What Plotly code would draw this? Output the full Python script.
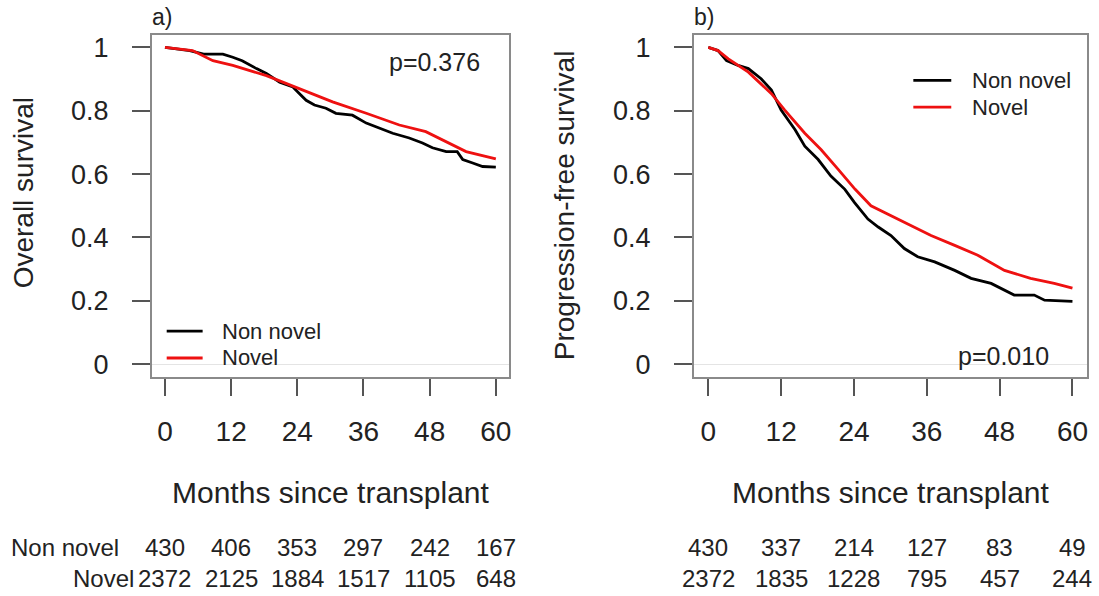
import plotly.graph_objects as go

W, H = 1099, 596

# ---------------- data ----------------
months_ticks = [0, 12, 24, 36, 48, 60]
surv_ticks = [0, 0.2, 0.4, 0.6, 0.8, 1]
surv_tick_text = ["0", "0.2", "0.4", "0.6", "0.8", "1"]

# Panel a) Overall survival
os_nonnovel_t = [0, 4.5, 7, 10.5, 12.3, 14, 16.6, 18.4, 20.8, 23.2, 24.4, 25.6, 27.1, 29.2, 31, 34,
                 36.5, 38.9, 41.3, 44.3, 46.7, 48.5, 51, 53, 54, 55.8, 57.6, 60]
os_nonnovel_s = [1, 0.99, 0.979, 0.979, 0.969, 0.958, 0.933, 0.918, 0.89, 0.875, 0.854, 0.833, 0.818,
                 0.808, 0.792, 0.786, 0.761, 0.745, 0.729, 0.714, 0.698, 0.683, 0.671, 0.671, 0.646,
                 0.635, 0.624, 0.622]
os_novel_t = [0, 5, 8.7, 12.3, 18.4, 24.4, 30.4, 36.5, 42.5, 47.3, 51.6, 54.6, 60]
os_novel_s = [1, 0.99, 0.958, 0.943, 0.911, 0.87, 0.828, 0.792, 0.755, 0.734, 0.698, 0.671, 0.648]

# Panel b) Progression-free survival
pfs_nonnovel_t = [0, 1.6, 3, 4.9, 6.6, 8.7, 10.4, 12, 14.3, 15.9, 18.1, 20.2, 22.5, 24.1, 26.3, 28,
                  30.1, 32.3, 34.5, 37.3, 40.6, 43.3, 46.6, 48.8, 50.4, 53.7, 55.4, 60]
pfs_nonnovel_s = [1, 0.99, 0.958, 0.943, 0.933, 0.901, 0.865, 0.802, 0.74, 0.688, 0.646, 0.594, 0.552,
                  0.51, 0.458, 0.433, 0.406, 0.365, 0.339, 0.323, 0.296, 0.271, 0.255, 0.234, 0.218,
                  0.218, 0.202, 0.198]
pfs_novel_t = [0, 1.6, 3.3, 6.6, 10.4, 12.6, 15.9, 18.6, 21.4, 24.2, 26.8, 30.1, 33.4, 36.7, 40.6,
               44.4, 48.8, 53.1, 57, 60]
pfs_novel_s = [1, 0.99, 0.964, 0.922, 0.854, 0.802, 0.729, 0.677, 0.615, 0.552, 0.5, 0.469, 0.438,
               0.406, 0.375, 0.344, 0.296, 0.271, 0.255, 0.24]

# Numbers at risk
risk_os_nonnovel = [430, 406, 353, 297, 242, 167]
risk_os_novel = [2372, 2125, 1884, 1517, 1105, 648]
risk_pfs_nonnovel = [430, 337, 214, 127, 83, 49]
risk_pfs_novel = [2372, 1835, 1228, 795, 457, 244]

series_names = ["Non novel", "Novel"]
p_values = ["p=0.376", "p=0.010"]
y_titles = ["Overall survival", "Progression-free survival"]
x_title = "Months since transplant"
panel_labels = ["a)", "b)"]

# ---------------- style ----------------
BLACK = "#000000"
RED = "#ee1111"
TXT = "#222222"
SANS = "Liberation Sans, Arial, sans-serif"

def px_x(p):
    return p / W

def px_y(p):
    return 1 - p / H

fig = go.Figure()

panels = [
    dict(xa="x", ya="y", xd=[152, 510], curves=[(os_nonnovel_t, os_nonnovel_s, BLACK), (os_novel_t, os_novel_s, RED)]),
    dict(xa="x2", ya="y2", xd=[695, 1089], curves=[(pfs_nonnovel_t, pfs_nonnovel_s, BLACK), (pfs_novel_t, pfs_novel_s, RED)]),
]

for i, p in enumerate(panels):
    for (t, s, c), name in zip(p["curves"], series_names):
        fig.add_trace(go.Scatter(x=t, y=s, mode="lines", name=name, showlegend=False,
                                 line=dict(color=c, width=2.8), xaxis=p["xa"], yaxis=p["ya"]))

axis_common = dict(showline=True, mirror=True, linecolor="#8a8a8a", linewidth=1.5,
                   ticks="outside", tickcolor="#555555", tickwidth=1.5, showgrid=False)

for i, p in enumerate(panels):
    sfx = "" if i == 0 else str(i + 1)
    fig.layout["xaxis" + sfx] = dict(
        axis_common, domain=[px_x(p["xd"][0]), px_x(p["xd"][1])], range=[-2.4, 62.4],
        tickvals=months_ticks, ticklen=17, zeroline=False,
        tickfont=dict(family=SANS, size=28, color=TXT), ticklabelstandoff=12,
        anchor="y" + sfx)
    fig.layout["yaxis" + sfx] = dict(
        axis_common, domain=[px_y(378), px_y(33)], range=[-0.04, 1.04],
        tickvals=surv_ticks, ticktext=surv_tick_text, ticklen=18,
        zeroline=True, zerolinecolor="#e4e4e4", zerolinewidth=1,
        tickfont=dict(family=SANS, size=27, color=TXT), ticklabelstandoff=18,
        anchor="x" + sfx)

ann = []

def txt(text, x, y, xref="paper", yref="paper", xanchor="center", size=24, **kw):
    ann.append(dict(text=text, x=x, y=y, xref=xref, yref=yref, xanchor=xanchor, yanchor="middle",
                    showarrow=False, font=dict(family=SANS, size=size, color=TXT), **kw))

# y-axis titles
txt(y_titles[0], px_x(23), px_y(192), size=28, textangle=-90)
txt(y_titles[1], px_x(565), px_y(205), size=28, textangle=-90)
# x-axis titles
for xa in ["x", "x2"]:
    txt(x_title, 30, px_y(495), xref=xa, size=30)
# panel labels
txt(panel_labels[0], px_x(150), px_y(15), xanchor="left", size=23)
txt(panel_labels[1], px_x(693), px_y(15), xanchor="left", size=23)
# p-values
txt(p_values[0], px_x(388), 0.955, yref="y", xanchor="left", size=25)
txt(p_values[1], px_x(958), 0.025, yref="y2", xanchor="left", size=25)

# legends (keys as shapes + text)
shapes = []
leg = [
    dict(x0=167, x1=203, ys=[332, 359], tx=220),
    dict(x0=915, x1=953, ys=[79, 106], tx=972),
]
for L in leg:
    for yy, c, name in zip(L["ys"], [BLACK, RED], series_names):
        shapes.append(dict(type="line", xref="paper", yref="paper", x0=px_x(L["x0"]), x1=px_x(L["x1"]),
                           y0=px_y(yy), y1=px_y(yy), line=dict(color=c, width=2.8)))
        txt(name, px_x(L["tx"]), px_y(yy), xanchor="left", size=22)

# risk table
rows_y = [550, 581]
for xa, risks in [("x", [risk_os_nonnovel, risk_os_novel]), ("x2", [risk_pfs_nonnovel, risk_pfs_novel])]:
    for r, yy in zip(risks, rows_y):
        for t, v in zip(months_ticks, r):
            txt(str(v), t, px_y(yy), xref=xa, size=24)
txt(series_names[0], px_x(9), px_y(550), xanchor="left", size=24)
txt(series_names[1], px_x(136), px_y(581), xanchor="right", size=24)

fig.update_layout(width=W, height=H, margin=dict(l=0, r=0, t=0, b=0),
                  paper_bgcolor="white", plot_bgcolor="white",
                  annotations=ann, shapes=shapes, showlegend=False)

fig.write_html("out.html", config={"displayModeBar": False},
               post_script="document.body.style.margin='0';document.body.style.padding='0';")
